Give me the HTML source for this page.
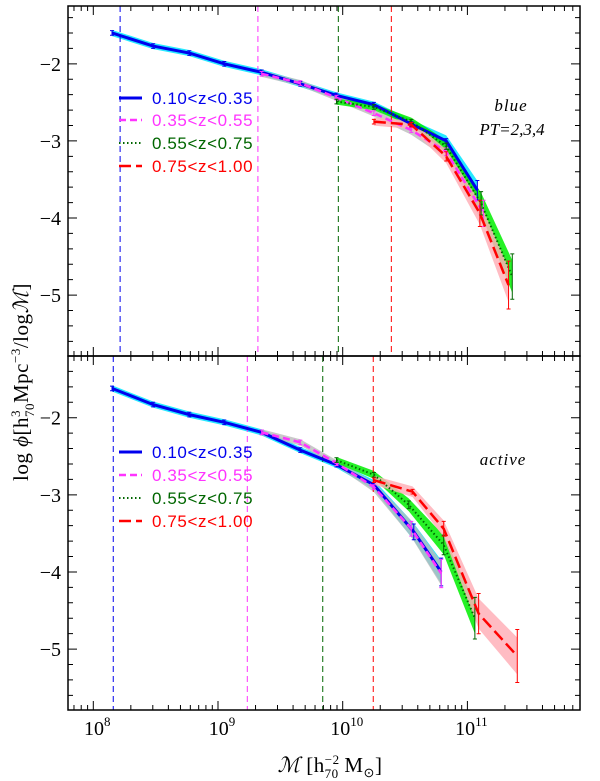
<!DOCTYPE html>
<html><head><meta charset="utf-8"><style>
html,body{margin:0;padding:0;background:#fff;}
svg{display:block;font-family:"Liberation Serif",serif;}
</style></head><body>
<svg id="chart" width="600" height="781" viewBox="0 0 600 781" xmlns="http://www.w3.org/2000/svg">
<g id="bands"></g><g id="vlines"></g><g id="lines"></g><g id="axes"></g><g id="legend"></g>
<text transform="translate(28,382) rotate(-90)" text-anchor="middle" font-size="21" letter-spacing="0.5">log <tspan font-style="italic">ϕ</tspan>[h<tspan font-size="13" dy="-8">3</tspan><tspan font-size="13" dx="-7" dy="14">70</tspan><tspan dy="-6">Mpc</tspan><tspan font-size="13" dy="-8">−3</tspan><tspan dy="8">/log</tspan><tspan font-style="italic">ℳ</tspan>]</text>
<text x="330" y="772" text-anchor="middle" font-size="21" letter-spacing="0.5"><tspan font-style="italic">ℳ</tspan>   [h<tspan font-size="13" dy="-8">−2</tspan><tspan font-size="13" dx="-15" dy="14">70</tspan><tspan dy="-6">  M</tspan><tspan font-size="13" dy="5">⊙</tspan><tspan dy="-5">]</tspan></text>
<text x="511" y="111" text-anchor="middle" font-size="17" font-style="italic" letter-spacing="1">blue</text>
<text x="512" y="135" text-anchor="middle" font-size="17" font-style="italic">PT=2,3,4</text>
<text x="503" y="465" text-anchor="middle" font-size="17" font-style="italic" letter-spacing="1">active</text>
</svg>
<script>
// ---- data (log mass, log phi) ----
const seriesNames = ["0.10<z<0.35","0.35<z<0.55","0.55<z<0.75","0.75<z<1.00"];
const topBlueX = [8.15,8.48,8.77,9.05,9.35,9.66,9.95,10.25,10.55,10.83,11.08];
const topBlueY = [-1.60,-1.77,-1.86,-2.00,-2.11,-2.26,-2.41,-2.53,-2.78,-3.00,-3.64];
const topMagX = [9.35,9.66,9.95,10.25,10.55,10.83,11.13];
const topMagY = [-2.13,-2.25,-2.44,-2.64,-2.86,-3.14,-3.94];
const topGreenX = [9.95,10.25,10.55,10.83,11.11,11.36];
const topGreenY = [-2.49,-2.56,-2.75,-3.07,-3.81,-4.76];
const topRedX = [10.25,10.55,10.83,11.10,11.33];
const topRedY = [-2.75,-2.79,-3.20,-3.94,-4.87];
const botBlueX = [8.15,8.48,8.77,9.05,9.35,9.66,9.95,10.25,10.57,10.79];
const botBlueY = [-1.62,-1.83,-1.96,-2.06,-2.19,-2.42,-2.61,-2.87,-3.48,-4.00];
const botMagX = [9.35,9.66,9.95,10.25,10.55,10.79];
const botMagY = [-2.19,-2.32,-2.59,-2.90,-3.44,-4.02];
const botGreenX = [9.95,10.25,10.53,10.81,11.06];
const botGreenY = [-2.55,-2.74,-3.13,-3.65,-4.60];
const botRedX = [10.25,10.56,10.81,11.09,11.40];
const botRedY = [-2.81,-2.96,-3.44,-4.54,-5.09];
const topLimits = [8.215,9.32,9.965,10.39];
const botLimits = [8.16,9.235,9.84,10.245];
const yTicks = [-2,-3,-4,-5];
const xTickLabels = ["8","9","10","11"];

const NS="http://www.w3.org/2000/svg";
const L=68,R=580;
const panels=[{top:6,bot:356,ymax:-1.25,ymin:-5.79},{top:356,bot:710,ymax:-1.20,ymin:-5.79}];
const xs=v=>93.3+(v-8)*124.7;
function ys(p,v){return p.top+(p.ymax-v)/(p.ymax-p.ymin)*(p.bot-p.top);}
function mk(parent,tag,attrs){const e=document.createElementNS(NS,tag);for(const k in attrs)e.setAttribute(k,attrs[k]);document.getElementById(parent).appendChild(e);return e;}

const colors=["#0000ee","#ff33ff","#006600","#ff0000"];
const bandCols=["#00e5ff","#bbbbbb","#00ee00","#ffb0b8"];
const dashes=["","7,4","1.5,2.5","12,5"];
const widths=[3,2.5,2,2.5];
const panelSeries=[[[topBlueX,topBlueY],[topMagX,topMagY],[topGreenX,topGreenY],[topRedX,topRedY]],
 [[botBlueX,botBlueY],[botMagX,botMagY],[botGreenX,botGreenY],[botRedX,botRedY]]];
const panelLimits=[topLimits,botLimits];

panels.forEach((p,pi)=>{
  panelSeries[pi].forEach((s,si)=>{
    const [X,Y]=s;
    const err=i=>0.04+Math.max(0,(-2.6-Y[i]))*0.08;
    let up=X.map((x,i)=>xs(x)+","+ys(p,Y[i]+err(i)));
    let dn=X.map((x,i)=>xs(x)+","+ys(p,Y[i]-err(i))).reverse();
    const b=mk("bands","polygon",{points:up.concat(dn).join(" "),fill:bandCols[si],opacity:si==1?0.8:0.85});
    
    
  });
  panelLimits[pi].forEach((lm,si)=>{
    const v=mk("vlines","line",{x1:xs(lm),x2:xs(lm),y1:p.top,y2:p.bot,stroke:colors[si],"stroke-width":1,"stroke-dasharray":"6,4"});
    
    
  });
  panelSeries[pi].forEach((s,si)=>{
    const [X,Y]=s;
    const ln=mk("lines","polyline",{points:X.map((x,i)=>xs(x)+","+ys(p,Y[i])).join(" "),fill:"none",stroke:colors[si],"stroke-width":widths[si],"stroke-dasharray":dashes[si]});
    
    
    X.forEach((x,i)=>{
      const e=0.03+Math.max(0,(-3.0-Y[i]))*0.15;
      const cx=xs(x),y1=ys(p,Y[i]+e),y2=ys(p,Y[i]-e);
      const eb=mk("lines","path",{d:`M${cx},${y1}V${y2}M${cx-2},${y1}H${cx+2}M${cx-2},${y2}H${cx+2}`,stroke:colors[si],"stroke-width":1,fill:"none"});
      
      
    });
  });
  const fr=mk("axes","rect",{x:L,y:p.top,width:R-L,height:p.bot-p.top,fill:"none",stroke:"#000","stroke-width":1.5});
  
  
  for(let v=-1.2;v>=-5.8;v-=0.2){
    const vv=Math.round(v*10)/10; const y=ys(p,vv);
    if(y<p.top+1||y>p.bot-1)continue;
    const major=Math.abs(vv-Math.round(vv))<0.01, len=major?9:5;
    mk("axes","path",{d:`M${L},${y}h${len}M${R},${y}h${-len}`,stroke:"#000","stroke-width":1});
  }
  yTicks.forEach(t=>{
    const tx=mk("axes","text",{x:61,y:ys(p,t)+7,"text-anchor":"end","font-size":20});
    tx.textContent="−"+Math.abs(t);
    
    
  });
  for(let d=7;d<=11;d++)for(let m=1;m<=9;m++){
    const lv=d+Math.log10(m), x=xs(lv);
    if(x<=L+1||x>=R-1)continue;
    const len=m==1?9:5;
    mk("axes","path",{d:`M${x},${p.top}v${len}M${x},${p.bot}v${-len}`,stroke:"#000","stroke-width":1});
  }
});
xTickLabels.forEach(t=>{
  const x=xs(+t);
  const tx=mk("axes","text",{x:x+4,y:735,"text-anchor":"middle","font-size":20});
  tx.innerHTML="10<tspan font-size='13' dy='-9'>"+t+"</tspan>";
  
  
});
[[98,120,143,166],[452,475,498,521]].forEach((ys0,pi)=>{
  seriesNames.forEach((n,si)=>{
    const y=ys0[si];
    const ln=mk("legend","line",{x1:119,x2:142,y1:y,y2:y,stroke:colors[si],"stroke-width":widths[si],"stroke-dasharray":dashes[si]});
    
    
    const t=mk("legend","text",{x:152,y:y+6,fill:colors[si],"font-size":17,"letter-spacing":"0.6","font-family":"Liberation Sans, sans-serif"});
    t.textContent=n;
    
    
  });
});
</script>
</body></html>
